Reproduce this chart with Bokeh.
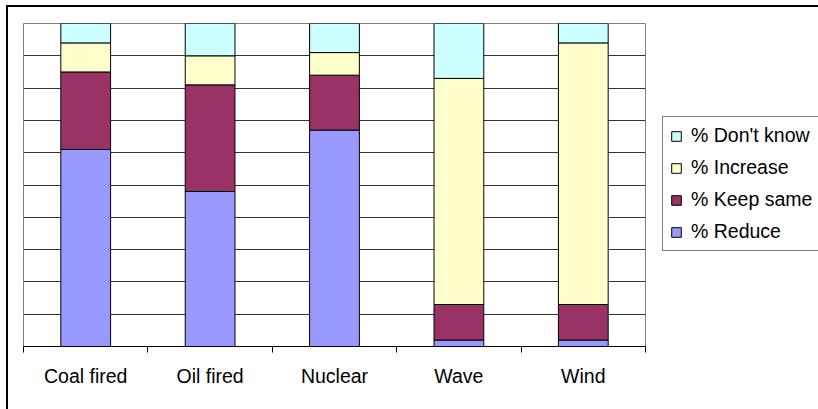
from bokeh.plotting import figure
from bokeh.layouts import row, column
from bokeh.models import (ColumnDataSource, FixedTicker, Legend, LegendItem,
                          Range1d, Spacer)
from bokeh.embed import file_html
from bokeh.resources import INLINE

# Survey answers per energy source (percent of respondents)
categories = ["Coal fired", "Oil fired", "Nuclear", "Wave", "Wind"]
reduce_pct = [61, 48, 67, 2, 2]
keep_same_pct = [24, 33, 17, 11, 11]
increase_pct = [9, 9, 7, 70, 81]
dont_know_pct = [6, 10, 9, 17, 6]

series_keys = ["reduce", "keep", "increase", "dontknow"]
series_labels = ["% Reduce", "% Keep same", "% Increase", "% Don't know"]
series_colors = ["#9999FF", "#993366", "#FFFFCC", "#CCFFFF"]

FONT = "Liberation Sans"
FONT_SIZE = "19.5px"
PANEL_H = 402

# one slot per category; bars sit in the middle of each slot
centers = [i + 0.5 for i in range(len(categories))]
source = ColumnDataSource(dict(
    x=centers,
    reduce=reduce_pct,
    keep=keep_same_pct,
    increase=increase_pct,
    dontknow=dont_know_pct,
))

p = figure(width=653, height=PANEL_H, output_backend="svg",
           toolbar_location=None,
           x_range=Range1d(0, len(categories)), y_range=Range1d(0, 100),
           min_border_left=15, min_border_right=16,
           min_border_top=16, min_border_bottom=63)
p.background_fill_color = "white"
p.border_fill_color = "white"
p.outline_line_color = "#808080"
p.outline_line_width = 1

renderers = p.vbar_stack(series_keys, x="x", width=0.4, source=source,
                         fill_color=series_colors, line_color="black",
                         line_width=1)

# value axis is hidden, only its gridlines remain
p.yaxis.visible = False
p.ygrid.ticker = FixedTicker(ticks=list(range(0, 101, 10)))
p.ygrid.grid_line_color = "#333333"
p.ygrid.grid_line_width = 1
p.xgrid.visible = False

# category axis: names at slot centres, tick marks at slot boundaries
xa = p.xaxis[0]
xa.ticker = FixedTicker(ticks=centers,
                        minor_ticks=list(range(len(categories) + 1)))
xa.major_label_overrides = {c: name for c, name in zip(centers, categories)}
xa.major_tick_line_color = None
xa.major_tick_out = 0
xa.major_tick_in = 0
xa.minor_tick_line_color = "black"
xa.minor_tick_out = 6
xa.minor_tick_in = 0
xa.axis_line_color = "black"
xa.axis_line_width = 1
xa.major_label_standoff = 12
xa.major_label_text_font = FONT
xa.major_label_text_font_size = FONT_SIZE
xa.major_label_text_color = "black"

# legend lives in its own narrow panel to the right of the plot area;
# hidden one-bar renderers supply the colour swatches
leg_fig = figure(width=157, height=PANEL_H, output_backend="svg",
                 toolbar_location=None, min_border=0,
                 x_range=Range1d(0, 1), y_range=Range1d(0, 1))
leg_fig.axis.visible = False
leg_fig.grid.visible = False
leg_fig.outline_line_color = None
leg_fig.background_fill_color = "white"
leg_fig.border_fill_color = "white"
swatches = [leg_fig.vbar(x=[0.5], top=[1], width=1, fill_color=c,
                         line_color="black", line_width=1, visible=False)
            for c in series_colors]

items = [LegendItem(label=lab, renderers=[r])
         for lab, r in zip(series_labels[::-1], swatches[::-1])]
legend = Legend(items=items, location=(1, 95), click_policy="none",
                border_line_color="black", border_line_width=1,
                background_fill_color="white", background_fill_alpha=1,
                label_text_font=FONT, label_text_font_size=FONT_SIZE,
                label_text_color="black",
                glyph_width=12, glyph_height=12, label_standoff=9,
                padding=7, spacing=9, margin=0, label_height=20,
                label_width=130)
leg_fig.add_layout(legend)

# chart frame: black rules along the top and left edges
top_rule = Spacer(width=812, height=2, styles={"background-color": "black"})
left_rule = Spacer(width=2, height=PANEL_H,
                   styles={"background-color": "black"})
chart = column(
    Spacer(width=818, height=5),
    row(Spacer(width=6, height=PANEL_H + 2),
        column(top_rule, row(left_rule, p, leg_fig, spacing=0), spacing=0),
        spacing=0),
    spacing=0)

html = file_html(chart, INLINE)
# the chart fills the page exactly; keep the page itself from scrolling
html = html.replace("</head>",
                    "<style>html, body { margin: 0; overflow: hidden; }</style>"
                    "</head>", 1)
open("out.html", "w").write(html)
